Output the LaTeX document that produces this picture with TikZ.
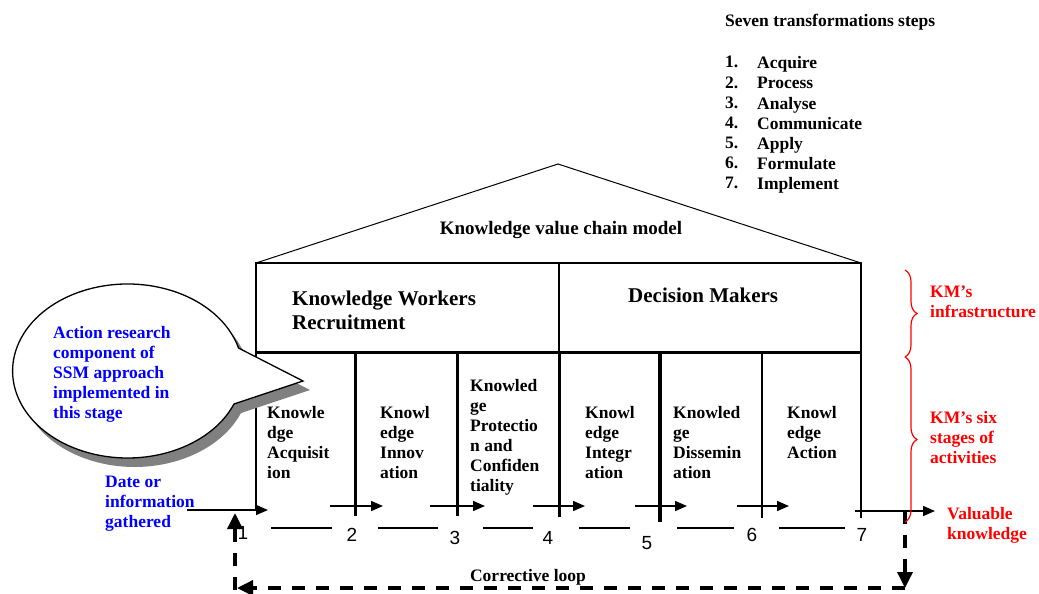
\documentclass[tikz,border=0pt]{standalone}
\usepackage{fontspec}
\setmainfont{Liberation Serif}
\newfontfamily\numfont{Liberation Sans}
\usetikzlibrary{arrows.meta,decorations.pathreplacing}
\begin{document}
\begin{tikzpicture}[x=1pt,y=-1pt,
  txt/.style={font=\fontsize{17.5}{20}\selectfont\bfseries, inner sep=0pt, align=left, anchor=north west},
  bigtxt/.style={font=\fontsize{21}{24}\selectfont\bfseries, inner sep=0pt, align=left, anchor=north west},
  numtxt/.style={font=\numfont\fontsize{19}{20}\selectfont, inner sep=0pt},
  thinline/.style={line width=1.2pt},
  colline/.style={line width=3pt},
  flow/.style={line width=1.5pt, -{Triangle[length=12pt,width=10pt]}},
  cloop/.style={line width=3.5pt, dash pattern=on 13pt off 11pt, -{Triangle[length=16pt,width=15pt]}},
  brc/.style={red, line width=1.2pt, decorate, decoration={brace,amplitude=12pt}},
  redt/.style={txt, text=red},
  bluet/.style={txt, text=blue},
]
\useasboundingbox (0,0) rectangle (1039,594);

% ---------- house frame ----------
\coordinate (rl) at (256,263);
\coordinate (rr) at (861,263);
\coordinate (apex) at (558,164);
\draw[line width=1pt] (rl) -- (apex) -- (rr);
\draw[thinline] (rl) rectangle (861,352);
\draw[thinline] (559,263) -- (559,352);
\draw[colline] (256,352) -- (861,352);

% column lines
\draw[line width=2pt] (256,352) -- (256,510);
\draw[colline] (355,352) -- (355,516);
\draw[colline] (457,352) -- (457,516);
\draw[colline] (559,352) -- (559,517);
\draw[line width=3.5pt] (660,352) -- (660,522);
\draw[line width=1.5pt] (762,352) -- (762,518);
\draw[line width=1.5pt] (861,352) -- (861,518);

% ---------- texts in the house ----------
\node[font=\fontsize{19}{22}\selectfont\bfseries, inner sep=0pt] (kvc) at (561,230) {Knowledge value chain model};
\node[bigtxt] (kwr) at (292,291) {Knowledge Workers\\Recruitment};
\node[bigtxt] (dm) at (628,288) {Decision Makers};

\node[txt] (c1) at (267,406) {Knowle\\dge\\Acquisit\\ion};
\node[txt] (c2) at (380,406) {Knowl\\edge\\Innov\\ation};
\node[txt] (c3) at (470,379) {Knowled\\ge\\Protectio\\n and\\Confiden\\tiality};
\node[txt] (c4) at (585,406) {Knowl\\edge\\Integr\\ation};
\node[txt] (c5) at (673,406) {Knowled\\ge\\Dissemin\\ation};
\node[txt] (c6) at (787,406) {Knowl\\edge\\Action};

% ---------- flow arrows ----------
\coordinate (a1s) at (187,510); \coordinate (a1e) at (268,510);
\coordinate (a2s) at (330,506); \coordinate (a2e) at (383,506);
\coordinate (a3s) at (430,506); \coordinate (a3e) at (485,506);
\coordinate (a4s) at (533,506); \coordinate (a4e) at (585,506);
\coordinate (a5s) at (635,506); \coordinate (a5e) at (687,506);
\coordinate (a6s) at (737,506); \coordinate (a6e) at (789,506);
\coordinate (a7s) at (855,511); \coordinate (a7e) at (935,511);
\foreach \i in {1,...,7} {\draw[flow] (a\i s) -- (a\i e);}

% dashes between numbers
\foreach \a/\b in {271/332,378/438,483/533,579/630,677/734,779/845}
  {\draw[thinline] (\a,528) -- (\b,528);}

% numbers
\node[numtxt] (n1) at (243,533) {1};
\node[numtxt] (n2) at (352,535) {2};
\node[numtxt] (n3) at (455,538) {3};
\node[numtxt] (n4) at (548,538) {4};
\node[numtxt] (n5) at (647,543) {5};
\node[numtxt] (n6) at (752,535) {6};
\node[numtxt] (n7) at (862,535) {7};

% ---------- corrective loop ----------
\coordinate (lp1) at (905,511);
\coordinate (lp2) at (905,588);
\coordinate (lp3) at (237,588);
\coordinate (lp4) at (235,590);
\coordinate (lp5) at (235,513);
\draw[cloop] (lp1) -- (lp2);
\draw[cloop] (lp2) -- (lp3);
\draw[cloop] (lp4) -- (lp5);
\node[font=\fontsize{17.5}{20}\selectfont\bfseries, inner sep=0pt] (cl) at (528,577) {Corrective loop};

% ---------- red braces and labels ----------
\draw[brc] (905,270) -- (905,357);
\draw[brc] (905,357) -- (905,522);
\node[redt] (kmi) at (930,286) {KM's\\infrastructure};
\node[redt] (kms) at (930,411) {KM's six\\stages of\\activities};
\node[redt] (vk) at (947,507) {Valuable\\knowledge};

% ---------- blue labels ----------
\node[bluet] (date) at (105,476) {Date or\\information\\gathered};

% ---------- callout ----------
\fill[gray, shift={(7,9)}] (303,381) -- (234,404)
  arc[start angle=-22.3, end angle=-344.7, x radius=115pt, y radius=87pt] -- cycle;
\draw[fill=white, line width=1.3pt] (303,381) -- (234,404)
  arc[start angle=-22.3, end angle=-344.7, x radius=115pt, y radius=87pt] -- cycle;
\node[bluet] (ar) at (53,326) {Action research\\component of\\SSM approach\\implemented in\\this stage};

% ---------- seven steps list ----------
\node[txt] (st) at (725,14) {Seven transformations steps};
\foreach \n/\t/\y in {1/Acquire/62,2/Process/83,3/Analyse/103,4/Communicate/123,5/Apply/143,6/Formulate/163,7/Implement/183} {
  \node[txt] (sn\n) at (725,\y-6) {\n.};
  \node[txt] (stx\n) at (757,\y-6) {\t};
}
\end{tikzpicture}
\end{document}
